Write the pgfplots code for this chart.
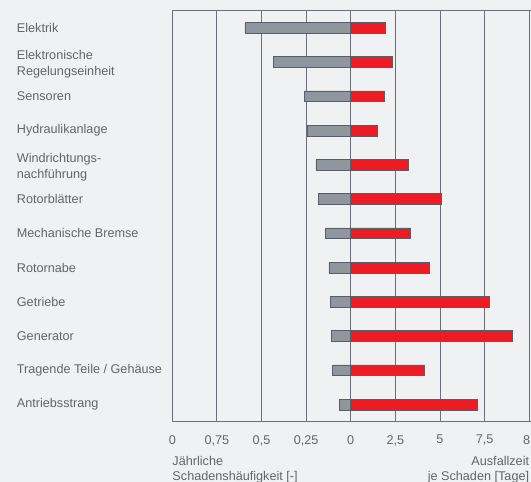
\documentclass[border=0pt]{standalone}
\usepackage{fontspec}
\setmainfont{Liberation Sans}
\usepackage{pgfplots}
\pgfplotsset{compat=1.18}
\usepackage{pgfplotstable}
\definecolor{bg}{RGB}{240,241,243}
\definecolor{barg}{RGB}{143,150,158}
\definecolor{edge}{RGB}{88,93,104}
\definecolor{rd}{RGB}{237,28,36}
\definecolor{gridc}{RGB}{105,110,120}
\definecolor{txt}{RGB}{100,101,104}
\newcommand{\twoline}[2]{\raisebox{-2.5bp}[\height][\depth]{\begin{tabular}{@{}l@{}}#1\\#2\end{tabular}}}
\pgfplotstableread{
y freq days
1 0.593 1.92
2 0.434 2.35
3 0.262 1.885
4 0.243 1.475
5 0.195 3.225
6 0.183 5.06
7 0.140 3.34
8 0.122 4.43
9 0.112 7.79
10 0.107 9.04
11 0.103 4.125
12 0.064 7.10
}\data
\begin{document}
\begin{tikzpicture}
\path[use as bounding box, fill=bg] (-172.3bp,-60.3bp) rectangle (358.7bp,421.7bp);
\begin{axis}[
  at={(0,0)}, anchor=south west, name=ax,
  scale only axis, width=358.7bp, height=411bp,
  xmin=-4, xmax=4.04, ymin=0.5, ymax=12.5, y dir=reverse,
  axis x line*=box, axis y line*=left,
  xtick={-4,-3,-2,-1,0,1,2,3,4},
  xticklabels={0,{0,75},{0,5},{0,25},0,{2,5},5,{7,5},{8\hspace*{5.2bp}}},
  ytick={1,2,3,4,5,6,7,8,9,10,11,12},
  yticklabels={Elektrik,{\twoline{Elektronische}{Regelungseinheit}},Sensoren,Hydraulikanlage,{\twoline{Windrichtungs-}{nachführung}},Rotorblätter,Mechanische Bremse,Rotornabe,Getriebe,Generator,{Tragende Teile / Gehäuse},Antriebsstrang},
  xmajorgrids, grid style={gridc, line width=0.9bp},
  axis line style={gridc, line width=0.9bp},
  major tick length=0pt,
  /pgf/number format/assume math mode=true,
  tick label style={font=\fontsize{12.7}{16}\selectfont, text=txt},
  yticklabel style={anchor=west, align=left, xshift=-155.6bp, inner sep=0pt},
  xticklabel style={yshift=-10bp},
]
\addplot[xbar, bar width=0.312, bar shift=0pt, fill=barg, draw=edge, line width=0.8bp]
  table[x expr=-4*\thisrow{freq}, y=y] {\data};
\addplot[xbar, bar width=0.312, bar shift=0pt, fill=rd, draw=edge, line width=0.8bp]
  table[x expr=\thisrow{days}/2.5, y=y] {\data};
\end{axis}
\node[anchor=north west, align=left, inner sep=0pt, font=\fontsize{12.7}{15}\selectfont, text=txt]
  at (0bp,-34.5bp) {Jährliche\\Schadenshäufigkeit [-]};
\node[anchor=north east, align=right, inner sep=0pt, font=\fontsize{12.7}{15}\selectfont, text=txt]
  at (357bp,-34.5bp) {Ausfallzeit\\je Schaden [Tage]};
\end{tikzpicture}
\end{document}
